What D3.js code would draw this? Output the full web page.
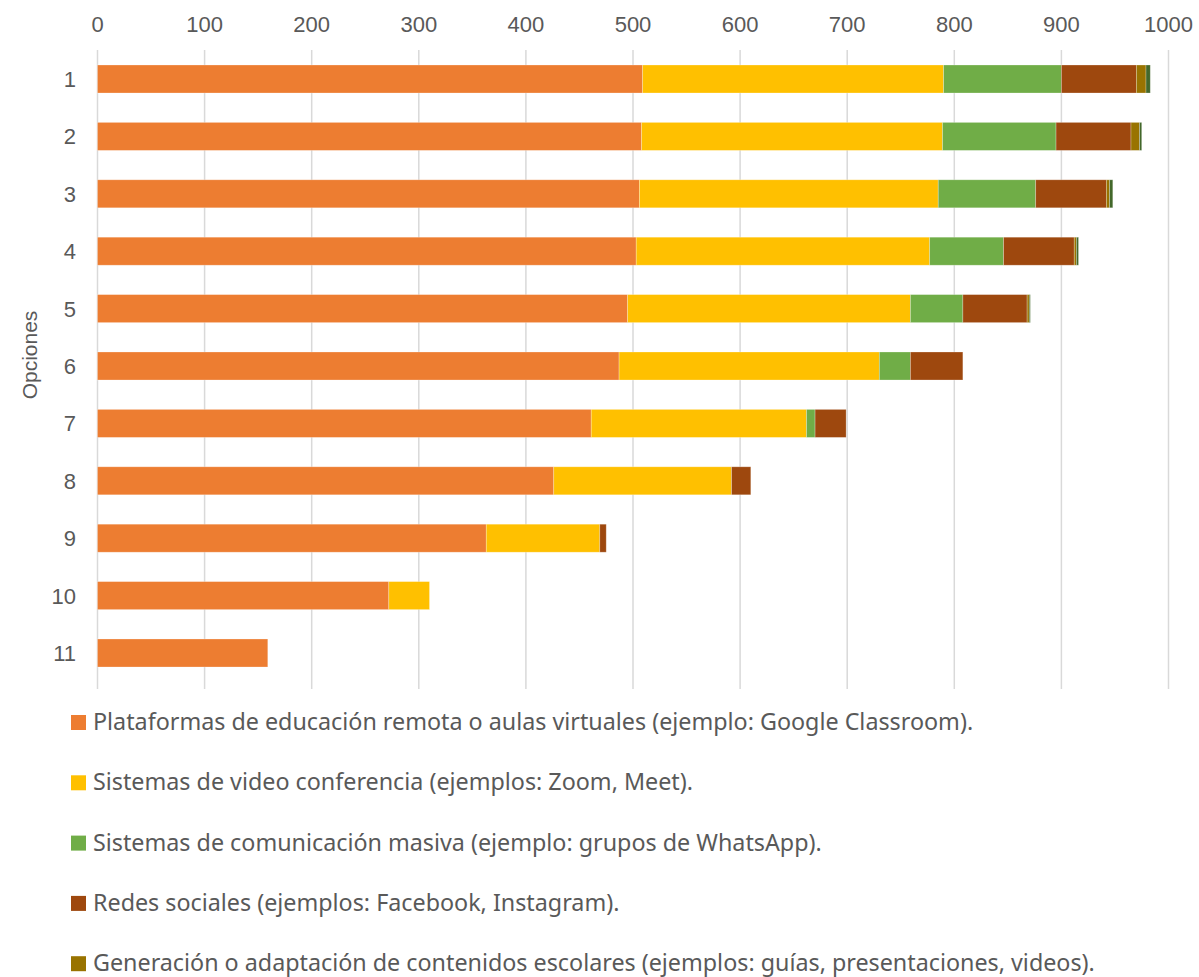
<!DOCTYPE html>
<html><head><meta charset="utf-8">
<script src="https://cdn.jsdelivr.net/npm/d3@7"></script>
<style>body{margin:0;background:#fff}svg{display:block}</style>
</head><body><svg id="c" width="1199" height="977"></svg>
<script>
const categories = ["1","2","3","4","5","6","7","8","9","10","11"];
const seriesNames = [
  "Plataformas de educación remota o aulas virtuales (ejemplo: Google Classroom).",
  "Sistemas de video conferencia (ejemplos: Zoom, Meet).",
  "Sistemas de comunicación masiva (ejemplo: grupos de WhatsApp).",
  "Redes sociales (ejemplos: Facebook, Instagram).",
  "Generación o adaptación de contenidos escolares (ejemplos: guías, presentaciones, videos).",
  "Otros"
];
const plataformas = [509, 508, 506, 503, 495, 487, 461, 426, 363, 272, 159];
const videoconf   = [281, 281, 279, 274, 264, 243, 201, 166, 106, 38, 0];
const mensajeria  = [110, 106, 91, 69, 49, 29, 8, 0, 0, 0, 0];
const redes       = [70, 70, 66, 66, 60, 49, 29, 18, 6, 0, 0];
const contenidos  = [9, 8, 3, 2, 2, 0, 0, 0, 0, 0, 0];
const otros       = [4, 2, 3, 2, 1, 0, 0, 0, 0, 0, 0];
const xTicks = [0,100,200,300,400,500,600,700,800,900,1000];
const colors = ["#ED7D31","#FFC000","#70AD47","#9E480E","#997300","#43682B"];

const seriesVals = [plataformas, videoconf, mensajeria, redes, contenidos, otros];
const table = categories.map((c,i)=>{const o={cat:c}; seriesVals.forEach((s,k)=>o["s"+k]=s[i]); return o;});
const keys = seriesVals.map((_,k)=>"s"+k);
const stack = d3.stack().keys(keys)(table);

const svg = d3.select("#c");
const x = d3.scaleLinear().domain([0,1000]).range([97.5,1168.5]);
const y = d3.scaleBand().domain(categories).range([50.3,681.7]).paddingInner(0.512).paddingOuter(0.256);

// gridlines
svg.append("g").selectAll("line").data(xTicks).join("line")
  .attr("x1",d=>x(d)).attr("x2",d=>x(d)).attr("y1",50).attr("y2",689)
  .attr("stroke","#d9d9d9").attr("stroke-width",1.5);

// top axis labels
svg.append("g").selectAll("text").data(xTicks).join("text")
  .attr("x",d=>x(d)).attr("y",31.5).attr("text-anchor","middle")
  .attr("font-family","Liberation Sans, Arial, sans-serif").attr("font-size",22).attr("fill","#595959")
  .text(d=>d);

// bars
svg.append("g").selectAll("g").data(stack).join("g").attr("fill",(d,i)=>colors[i])
  .selectAll("rect").data(d=>d.filter(p=>p[1]-p[0]>0)).join("rect")
  .attr("x",d=>x(d[0])).attr("width",d=>x(d[1])-x(d[0]))
  .attr("y",d=>y(d.data.cat)).attr("height",y.bandwidth())
  .attr("stroke","#fff").attr("stroke-opacity",0.35).attr("stroke-width",0.75);

// category labels
svg.append("g").selectAll("text").data(categories).join("text")
  .attr("x",76).attr("y",d=>y(d)+y.bandwidth()/2+8).attr("text-anchor","end")
  .attr("font-family","Liberation Sans, Arial, sans-serif").attr("font-size",22).attr("fill","#595959")
  .text(d=>d);

// axis title
svg.append("text").attr("transform","translate(37,355) rotate(-90)").attr("text-anchor","middle")
  .attr("font-family","Liberation Sans, Arial, sans-serif").attr("font-size",21).attr("fill","#595959")
  .text("Opciones");

// legend (visible items)
const leg = svg.append("g").selectAll("g").data(seriesNames.slice(0,5)).join("g")
  .attr("transform",(d,i)=>`translate(71,${730+i*60.3})`);
leg.append("rect").attr("x",0).attr("y",-15).attr("width",15).attr("height",15).attr("fill",(d,i)=>colors[i]);
leg.append("text").attr("x",22).attr("y",0)
  .attr("font-family","Noto Sans, Open Sans, sans-serif").attr("font-size",23.3).attr("fill","#595959")
  .text(d=>d);
</script></body></html>
